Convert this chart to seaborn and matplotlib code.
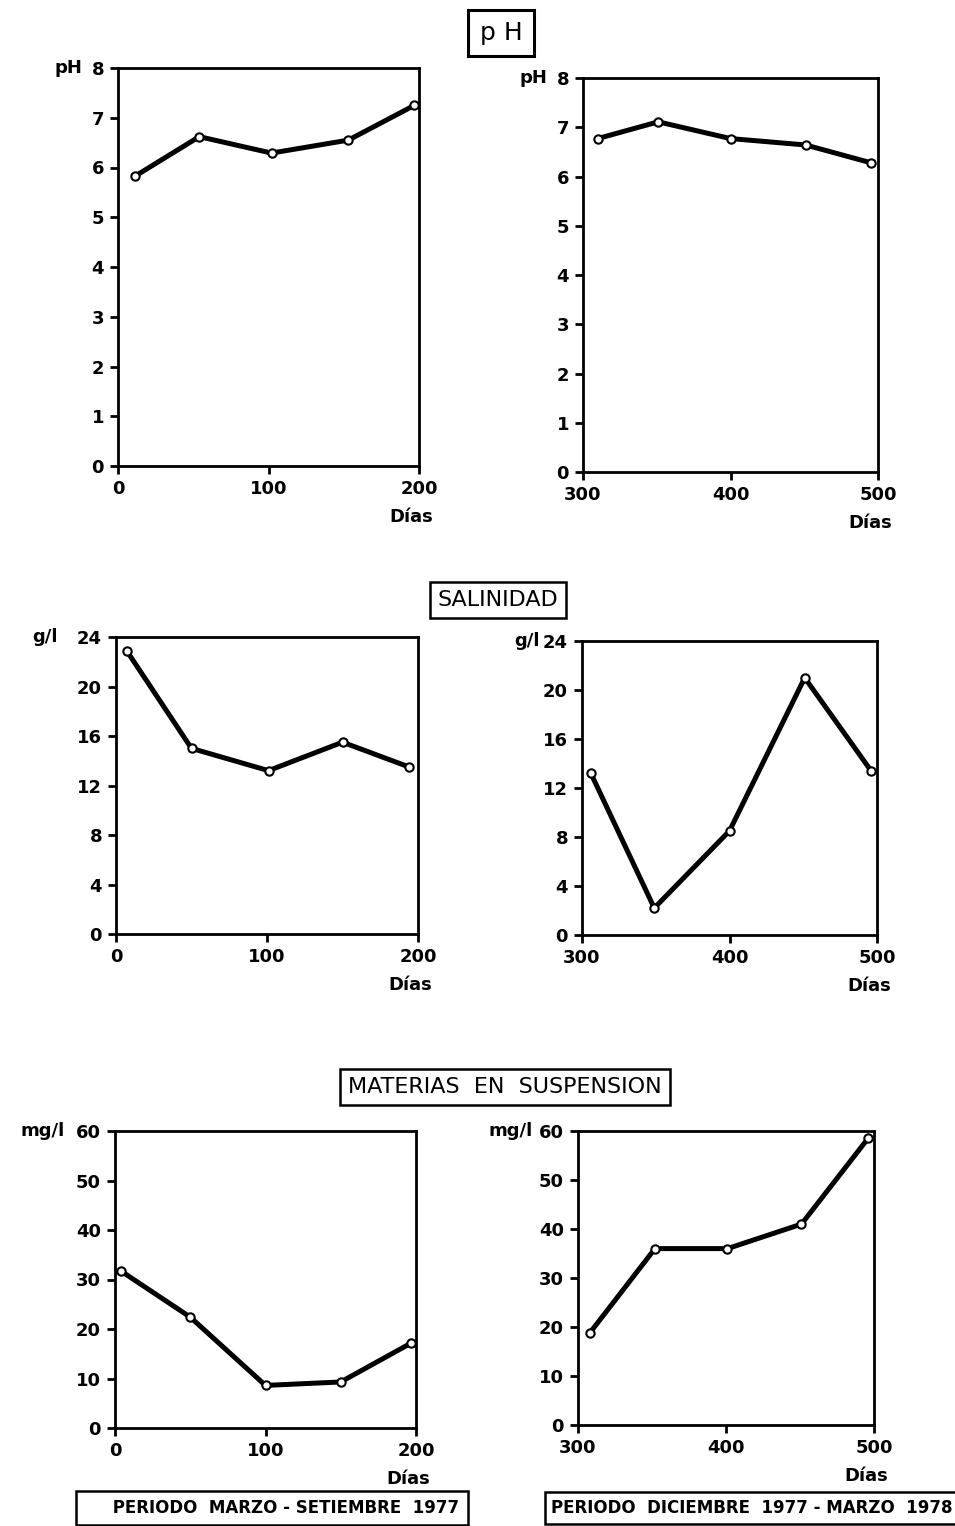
import numpy as np
import pandas as pd
import matplotlib
matplotlib.use("Agg")
import matplotlib.pyplot as plt
import seaborn as sns

# valores (dias, valor)
ph_dias_1 = [11, 54, 102, 153, 197]
ph_1 = [5.82, 6.62, 6.29, 6.55, 7.25]
ph_dias_2 = [310, 351, 400, 451, 495]
ph_2 = [6.77, 7.11, 6.77, 6.64, 6.28]

sal_dias_1 = [7, 50, 101, 150, 194]
sal_1 = [22.9, 15.0, 13.2, 15.5, 13.5]
sal_dias_2 = [306, 349, 400, 451, 496]
sal_2 = [13.2, 2.2, 8.5, 21.0, 13.4]

mes_dias_1 = [4, 50, 100, 150, 197]
mes_1 = [31.7, 22.4, 8.6, 9.3, 17.2]
mes_dias_2 = [308, 352, 401, 451, 496]
mes_2 = [18.8, 36.0, 36.0, 41.0, 58.5]

titulos = ["p H", "SALINIDAD", "MATERIAS  EN  SUSPENSION"]
unidades = ["pH", "g/l", "mg/l"]
periodos = ["PERIODO  MARZO - SETIEMBRE  1977", "PERIODO  DICIEMBRE  1977 - MARZO  1978"]

sns.set_style("ticks")
plt.rcParams["font.family"] = ["DejaVu Sans"]
plt.rcParams["text.color"] = "black"

W, H = 955, 1526
fig = plt.figure(figsize=(W / 100, H / 100), dpi=100)

def px_axes(l, r, t, b):
    return fig.add_axes([l / W, 1 - b / H, (r - l) / W, (b - t) / H])

# (left, right, top, bottom) in pixels
cajas = [
    (118, 419, 68, 466), (583, 878, 78, 472),
    (116, 418, 637, 934), (582, 877, 641, 935),
    (115, 416, 1131, 1428), (578, 874, 1131, 1425),
]
series = [
    (ph_dias_1, ph_1), (ph_dias_2, ph_2),
    (sal_dias_1, sal_1), (sal_dias_2, sal_2),
    (mes_dias_1, mes_1), (mes_dias_2, mes_2),
]
ylims = [8, 8, 24, 24, 60, 60]
ysteps = [1, 1, 4, 4, 10, 10]
unit_off = [36, 36, 58, 42, 50, 45]

for i, (caja, (x, y)) in enumerate(zip(cajas, series)):
    ax = px_axes(*caja)
    df = pd.DataFrame({"dias": x, "valor": y})
    sns.lineplot(data=df, x="dias", y="valor", ax=ax, color="black", lw=3.6,
                 marker="o", markersize=6, markerfacecolor="white",
                 markeredgecolor="black", markeredgewidth=1.5)
    x0 = 0 if i % 2 == 0 else 300
    ax.set_xlim(x0, x0 + 200)
    ax.set_ylim(0, ylims[i])
    ax.set_xticks([x0, x0 + 100, x0 + 200])
    ax.set_yticks(np.arange(0, ylims[i] + 1, ysteps[i]))
    ax.set_xlabel("")
    ax.set_ylabel("")
    for s in ax.spines.values():
        s.set_visible(True)
        s.set_linewidth(2)
        s.set_color("black")
    ax.tick_params(axis="both", direction="out", length=6, width=2,
                   labelsize=13, pad=4, colors="black")
    for lab in ax.get_xticklabels() + ax.get_yticklabels():
        lab.set_fontweight("bold")
    ax.annotate(unidades[i // 2], xy=(0, 1), xycoords="axes fraction",
                xytext=(-unit_off[i], 0), textcoords="offset pixels",
                ha="right", va="center", fontsize=13, fontweight="bold",
                color="black")
    ax.annotate("Días", xy=(1, 0), xycoords="axes fraction",
                xytext=(-8, -51), textcoords="offset pixels",
                ha="center", va="center", fontsize=13, fontweight="bold",
                color="black")

caja_txt = dict(boxstyle="square,pad=0.35", fc="white", ec="black", lw=1.8)
fig.text(501 / W, 1 - 33 / H, titulos[0], ha="center", va="center",
         fontsize=18, color="black",
         bbox=dict(boxstyle="square,pad=0.45", fc="white", ec="black", lw=2.2))
fig.text(498 / W, 1 - 600 / H, titulos[1], ha="center", va="center",
         fontsize=16, color="black", bbox=caja_txt)
fig.text(505 / W, 1 - 1087 / H, titulos[2], ha="center", va="center",
         fontsize=16, color="black", bbox=caja_txt)
fig.text(272 / W, 1 - 1508 / H, "     " + periodos[0], ha="center", va="center",
         fontsize=12, fontweight="bold", color="black",
         bbox=dict(boxstyle="square,pad=0.5", fc="white", ec="black", lw=1.8))
fig.text(752 / W, 1 - 1508 / H, periodos[1], ha="center", va="center",
         fontsize=12, fontweight="bold", color="black",
         bbox=dict(boxstyle="square,pad=0.4", fc="white", ec="black", lw=1.8))

fig.savefig("out.png", dpi=100, facecolor="white")
